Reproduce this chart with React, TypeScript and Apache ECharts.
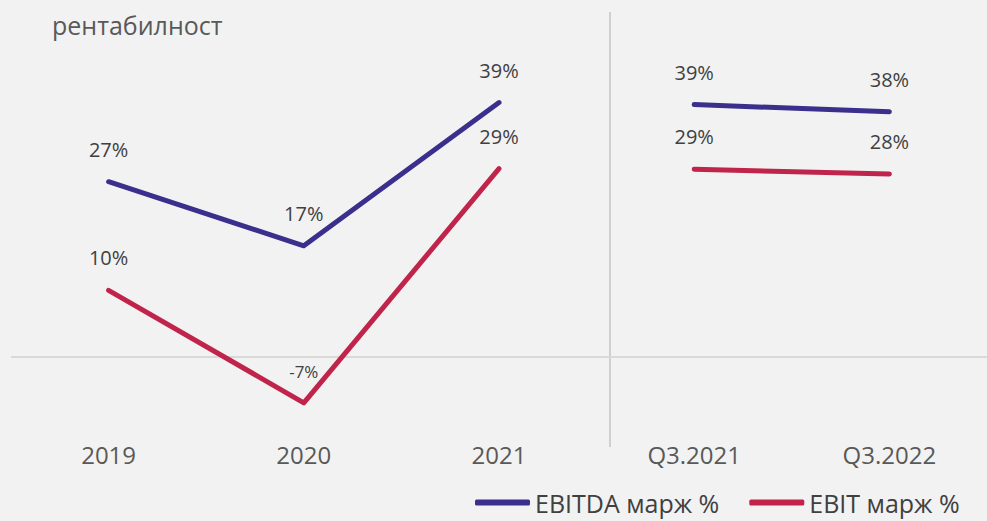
import React, { useEffect, useRef } from "react";
import * as echarts from "echarts";

const categories = ["2019", "2020", "2021", "Q3.2021", "Q3.2022"];
const ebitdaAnnual = [26.8, 17.0, 38.9, null, null];
const ebitdaQuarter = [null, null, null, 38.6, 37.5];
const ebitAnnual = [10.2, -7.0, 28.8, null, null];
const ebitQuarter = [null, null, null, 28.7, 28.0];
const seriesNames = ["EBITDA марж %", "EBIT марж %"];
const subtitle = "рентабилност";

const FONT = "'Open Sans', sans-serif";
const EBITDA_COLOR = "#3a2f8c";
const EBIT_COLOR = "#c0244b";

function toData(arr: (number | null)[]) {
  return arr.map((v) =>
    v === null
      ? "-"
      : v < 0
      ? { value: v, label: { fontSize: 17 } }
      : v
  );
}

function lineSeries(name: string, data: (number | null)[], color: string, extra: any = {}) {
  return {
    name,
    type: "line",
    data: toData(data),
    symbol: "circle",
    symbolSize: 1,
    itemStyle: { color },
    lineStyle: { color, width: 5, cap: "round", join: "round" },
    label: {
      show: true,
      position: "top",
      distance: 22,
      color: "#404040",
      fontSize: 20,
      fontFamily: FONT,
      formatter: (p: any) => Math.round(p.value) + "%",
    },
    connectNulls: false,
    ...extra,
  };
}

export default function App() {
  const ref = useRef<HTMLDivElement>(null);
  useEffect(() => {
    const chart = echarts.init(ref.current!, null, { renderer: "svg" });
    chart.setOption({
      animation: false,
      backgroundColor: "#f2f2f2",
      grid: { left: 11, top: 30, width: 982, height: 405.5 },
      xAxis: {
        type: "category",
        data: categories,
        boundaryGap: true,
        axisLine: { show: false },
        axisTick: { show: false },
        axisLabel: { color: "#595959", fontSize: 24, fontFamily: FONT, margin: 7 },
      },
      yAxis: {
        type: "value",
        min: -12,
        max: 50,
        show: false,
        splitLine: { show: false },
      },
      legend: {
        data: seriesNames,
        left: 470,
        top: 485,
        icon: "roundRect",
        itemWidth: 55,
        itemHeight: 6,
        itemGap: 30,
        textStyle: { color: "#404040", fontSize: 25, fontFamily: FONT, lineHeight: 25 },
      },
      graphic: [
        {
          type: "text",
          left: 52,
          top: 12,
          style: { text: subtitle, fill: "#595959", fontSize: 25, fontFamily: FONT },
        },
        {
          type: "line",
          shape: { x1: 610, y1: 12, x2: 610, y2: 447 },
          style: { stroke: "#d0d0d0", lineWidth: 2 },
          z: 0,
        },
      ],
      series: [
        lineSeries(seriesNames[0], ebitdaAnnual, EBITDA_COLOR, {
          markLine: {
            silent: true,
            symbol: "none",
            label: { show: false },
            lineStyle: { color: "#d9d9d9", width: 2, type: "solid" },
            data: [{ yAxis: 0 }],
            z: 0,
          },
        }),
        lineSeries(seriesNames[0], ebitdaQuarter, EBITDA_COLOR),
        lineSeries(seriesNames[1], ebitAnnual, EBIT_COLOR),
        lineSeries(seriesNames[1], ebitQuarter, EBIT_COLOR),
      ],
    });
    return () => chart.dispose();
  }, []);
  return <div ref={ref} style={{ width: 987, height: 521, position: "absolute", left: 0, top: 0 }} />;
}
